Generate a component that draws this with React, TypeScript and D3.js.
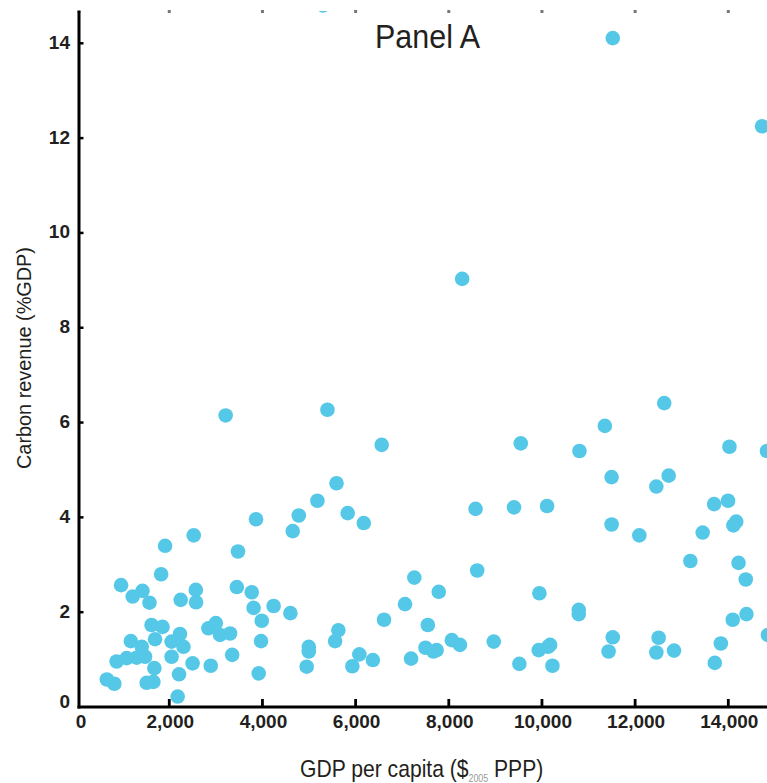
import React from 'react';
import * as d3 from 'd3';

const gdp = [
  5300, 11520, 14725, 8287, 3210, 5395, 12625, 11350, 6560, 9545,
  10805, 14025, 14830, 11495, 12720, 12455, 5590, 5180, 4780, 4650,
  5830, 6175, 3862, 2525, 1910, 3475, 8575, 9400, 10110, 13695,
  13995, 11495, 12090, 13450, 14110, 14170, 13185, 14220, 14375, 8610,
  7785, 7260, 9945, 10790, 10790, 7550, 14095, 14390, 14850, 7500,
  7670, 7740, 8065, 8240, 8965, 9515, 9930, 10130, 10175, 10225,
  11520, 11430, 12505, 12455, 12835, 13840, 13710, 7060, 6610, 7190,
  6370, 6080, 5930, 5630, 5560, 4995, 4995, 4950, 3920, 3970,
  3770, 3810, 3985, 4240, 4600, 3450, 1825, 965, 1425, 1215,
  1575, 2245, 2570, 2575, 1620, 1855, 1695, 1175, 1410, 1480,
  870, 1085, 1300, 660, 820, 1680, 1660, 1515, 2180, 2210,
  2230, 2050, 2305, 2050, 2500, 2890, 2840, 3000, 3090, 3305,
  3350,
];

const revenue = [
  14.80, 14.11, 12.25, 9.03, 6.15, 6.27, 6.41, 5.93, 5.53, 5.56,
  5.40, 5.49, 5.40, 4.85, 4.88, 4.65, 4.72, 4.35, 4.04, 3.71,
  4.09, 3.88, 3.96, 3.62, 3.40, 3.28, 4.18, 4.21, 4.24, 4.28,
  4.35, 3.85, 3.62, 3.68, 3.83, 3.91, 3.08, 3.04, 2.69, 2.88,
  2.43, 2.73, 2.40, 2.05, 1.96, 1.73, 1.84, 1.96, 1.52, 1.25,
  1.17, 1.20, 1.41, 1.31, 1.38, 0.91, 1.20, 1.27, 1.31, 0.87,
  1.47, 1.17, 1.46, 1.15, 1.19, 1.34, 0.93, 2.17, 1.84, 1.02,
  0.99, 1.11, 0.86, 1.62, 1.39, 1.27, 1.17, 0.85, 0.71, 1.39,
  2.42, 2.09, 1.82, 2.13, 1.98, 2.53, 2.80, 2.57, 2.45, 2.33,
  2.20, 2.26, 2.47, 2.21, 1.73, 1.69, 1.43, 1.39, 1.27, 1.06,
  0.96, 1.03, 1.04, 0.58, 0.49, 0.82, 0.53, 0.51, 0.22, 0.69,
  1.54, 1.38, 1.27, 1.06, 0.92, 0.87, 1.66, 1.77, 1.52, 1.55,
  1.10,
];

const xTicks = [0, 2000, 4000, 6000, 8000, 10000, 12000, 14000];
const yTicks = [0, 2, 4, 6, 8, 10, 12, 14];

const title = 'Panel A';
const xTitle = 'GDP per capita ($';
const xTitleSub = '2005';
const xTitleEnd = ' PPP)';
const yTitle = 'Carbon revenue (%GDP)';

export default function App() {
  const W = 767;
  const H = 783;
  const x = d3.scaleLinear().domain([0, 14000]).range([76.1, 728.3]);
  const y = d3.scaleLinear().domain([0, 14]).range([707, 43.3]);
  const axisX = 79;
  const axisY = 707;
  const top = 11;
  const fmt = d3.format(',');
  const font = '"Liberation Sans", Arial, sans-serif';
  const ink = '#231f20';
  const dot = '#55c8e8';

  const pts = gdp.map((g, i) => ({ g, r: revenue[i] }));

  return (
    <svg
      width={W}
      height={H}
      style={{ position: 'absolute', left: 0, top: 0, background: '#fff' }}
      fontFamily={font}
    >
      <defs>
        <clipPath id="plot">
          <rect x={axisX} y={top} width={W - axisX} height={axisY - top} />
        </clipPath>
      </defs>

      {/* top grey tick marks */}
      {xTicks.map((t) => (
        <rect key={'tt' + t} x={(t === 0 ? axisX : x(t)) - 1.5} y={top - 1} width={3} height={3} fill="#777" />
      ))}

      {/* points */}
      <g clipPath="url(#plot)">
        {pts.map((p, i) => (
          <circle key={i} cx={x(p.g)} cy={y(p.r)} r={7.3} fill={dot} />
        ))}
      </g>

      {/* axes */}
      <line x1={axisX} x2={axisX} y1={top} y2={axisY + 1.5} stroke="#000" strokeWidth={3} />
      <line x1={axisX - 1.5} x2={W} y1={axisY} y2={axisY} stroke="#000" strokeWidth={3} />

      {yTicks.filter((t) => t > 0).map((t) => (
        <line key={'yt' + t} x1={axisX} x2={axisX + 4.5} y1={y(t)} y2={y(t)} stroke="#000" strokeWidth={2.5} />
      ))}
      {xTicks.filter((t) => t > 0).map((t) => (
        <line key={'xt' + t} x1={x(t)} x2={x(t)} y1={axisY} y2={axisY - 8} stroke="#000" strokeWidth={2.8} />
      ))}

      {yTicks.map((t) => (
        <text
          key={'yl' + t}
          x={70}
          y={y(t) - (t === 0 ? 6 : 1)}
          textAnchor="end"
          dominantBaseline="central"
          fontSize={19}
          fontWeight={700}
          fill={ink}
        >
          {t}
        </text>
      ))}
      {xTicks.map((t) => (
        <text
          key={'xl' + t}
          x={t === 0 ? 81 : x(t) + 1}
          y={728}
          textAnchor="middle"
          fontSize={19}
          fontWeight={700}
          fill={ink}
        >
          {fmt(t)}
        </text>
      ))}

      <text x={375} y={48} fontSize={34} fill={ink} textLength={105} lengthAdjust="spacingAndGlyphs">
        {title}
      </text>

      <g transform="translate(300,777) scale(0.88,1)">
        <text x={0} y={0} fontSize={24} fill={ink}>
          <tspan>{xTitle}</tspan>
          <tspan fontSize={10} dy={5} fill="#999">{xTitleSub}</tspan>
          <tspan dy={-5}>{xTitleEnd}</tspan>
        </text>
      </g>

      <text
        transform={`translate(31,358) rotate(-90)`}
        textAnchor="middle"
        fontSize={21}
        fill={ink}
        textLength={222}
        lengthAdjust="spacingAndGlyphs"
      >
        {yTitle}
      </text>
    </svg>
  );
}
